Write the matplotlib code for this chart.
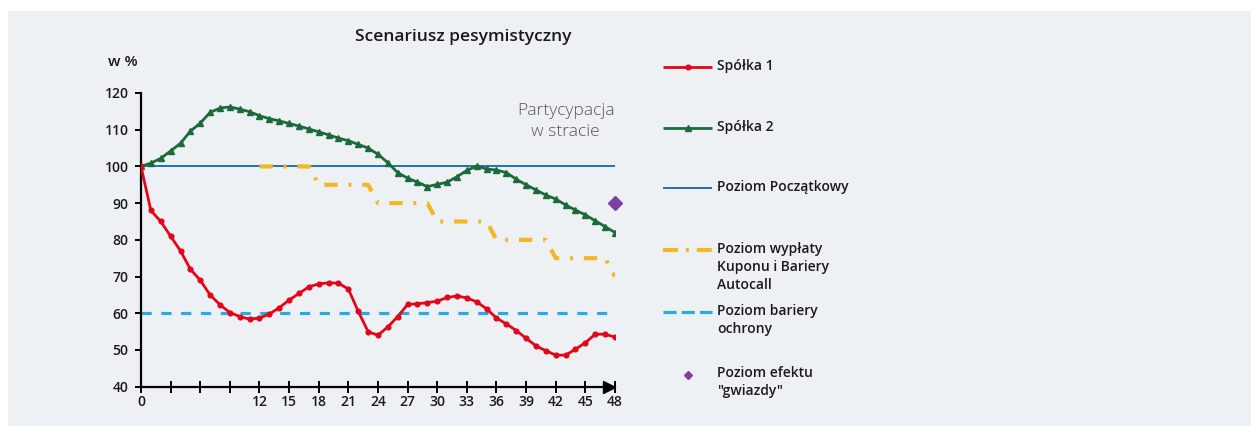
import matplotlib
matplotlib.use("Agg")
import matplotlib.pyplot as plt
from matplotlib.patches import Rectangle

# ---------------- data ----------------
months = list(range(49))
spolka1 = [100, 88, 85, 81, 77, 72, 69, 65, 62.3, 60.2,
           59.1, 58.4, 58.7, 59.8, 61.5, 63.6, 65.4, 67.2, 68, 68.3,
           68.2, 66.6, 60.5, 55, 54, 56.3, 59.1, 62.4, 62.6, 62.9,
           63.3, 64.3, 64.7, 64.2, 63.1, 61.2, 58.7, 57.1, 55.3, 53.2,
           51.1, 49.8, 48.6, 48.6, 50.2, 52.0, 54.3, 54.3, 53.5]
spolka2 = [100, 100.9, 102.2, 104.2, 106.3, 109.6, 111.8, 114.7, 115.9, 116.2,
           115.6, 114.9, 113.8, 113, 112.4, 111.7, 111, 110.2, 109.4, 108.6,
           107.7, 107, 106, 105, 103.3, 101, 98.3, 96.8, 95.7, 94.5,
           95.1, 95.7, 97.2, 98.9, 100.1, 99.3, 99, 98.3, 96.5, 95,
           93.6, 92.2, 91.1, 89.5, 88.1, 86.8, 85.2, 83.6, 82]
autocall_months = list(range(12, 49))
autocall = [100, 100, 100, 100, 100, 100,
            95, 95, 95, 95, 95, 95,
            90, 90, 90, 90, 90, 90,
            85, 85, 85, 85, 85, 85,
            80, 80, 80, 80, 80, 80,
            75, 75, 75, 75, 75, 75,
            70]
poziom_poczatkowy = 100
bariera_ochrony = 60
gwiazda_x = [48]
gwiazda_y = [90]

xticks = list(range(0, 49, 3))
xticklabels = ["0", "", "", "", "12", "15", "18", "21", "24", "27", "30",
               "33", "36", "39", "42", "45", "48"]
yticks = [40, 50, 60, 70, 80, 90, 100, 110, 120]

title = "Scenariusz pesymistyczny"
ylabel = "w %"
note = "Partycypacja\nw stracie"
legend_labels = ["Spółka 1", "Spółka 2", "Poziom Początkowy",
                 "Poziom wypłaty\nKuponu i Bariery\nAutocall",
                 "Poziom bariery\nochrony", "Poziom efektu\n\"gwiazdy\""]

# ---------------- style ----------------
RED = "#E2061B"
GREEN = "#1B6B3A"
BLUE = "#1F74B3"
CYAN = "#2AABE0"
YELLOW = "#F1B726"
PURPLE = "#7A40A3"
BG = "#EEF1F4"
TXT = "#1a1a1a"

plt.rcParams['font.family'] = ['Open Sans', 'DejaVu Sans']

W, H = 1251, 429
fig = plt.figure(figsize=(W / 100, H / 100), dpi=100)
fig.patch.set_facecolor("white")
fig.patches.append(Rectangle((8 / W, 3 / H), (W - 8) / W, (H - 14) / H,
                             transform=fig.transFigure, facecolor=BG,
                             edgecolor="none", zorder=-10))

x0, x1 = 141, 615
y0, y1 = 386.7, 93
ax = fig.add_axes([x0 / W, (H - y0) / H, (x1 - x0) / W, (y0 - y1) / H])
ax.set_facecolor("none")
ax.set_xlim(0, 48)
ax.set_ylim(40, 120)

ax.axhline(poziom_poczatkowy, color=BLUE, lw=1.4, zorder=2)
ax.axhline(bariera_ochrony, color=CYAN, lw=2.3, linestyle=(0, (3.2, 3.0)), zorder=2)
ax.plot(autocall_months, autocall, color=YELLOW, lw=3.0,
        linestyle=(0, (3.2, 2.6, 0.7, 2.6)), zorder=3)
ax.plot(months, spolka2, color=GREEN, lw=2.0, marker="^", markersize=4.0, zorder=4)
ax.plot(months, spolka1, color=RED, lw=2.0, marker="o", markersize=3.4, zorder=5)
ax.plot(gwiazda_x, gwiazda_y, linestyle="none", marker="D", markersize=7.5,
        color=PURPLE, clip_on=False, zorder=6)

for s in ["top", "right"]:
    ax.spines[s].set_visible(False)
for s in ["left", "bottom"]:
    ax.spines[s].set_linewidth(1.6)
    ax.spines[s].set_color("black")

ax.set_xticks(xticks)
ax.set_xticklabels(xticklabels)
ax.set_yticks(yticks)
ax.tick_params(axis="x", direction="inout", length=8, width=1.4, pad=2,
               labelsize=10, labelcolor=TXT)
ax.tick_params(axis="y", direction="out", length=4, width=1.4, pad=5,
               labelsize=10, labelcolor=TXT)
for lab in ax.get_xticklabels() + ax.get_yticklabels():
    lab.set_fontweight("semibold")

# arrow at the end of the x axis
ax.plot([47.35], [40], marker=">", markersize=9, color="black",
        clip_on=False, zorder=7)

ax.text(43.0, 112.2, note, ha="center", va="center", fontsize=12.5,
        color="#555555", fontweight="light", linespacing=1.45)

fig.text(463 / W, 1 - 37 / H, title, ha="center", va="center",
         fontsize=12.5, fontweight="semibold", color=TXT)
fig.text(108 / W, 1 - 62 / H, ylabel, ha="left", va="center",
         fontsize=11, fontweight="semibold", color=TXT)

# ---------------- legend (manual) ----------------
lax = fig.add_axes([0, 0, 1, 1])
lax.set_xlim(0, W)
lax.set_ylim(H, 0)
lax.axis("off")
lx0, lx1, ltx = 663, 712, 717
rows = [67, 128, 188, 250, 312, 374]
handles = [
    dict(color=RED, lw=2.0, ls="-"),
    dict(color=GREEN, lw=2.0, ls="-"),
    dict(color=BLUE, lw=1.4, ls="-"),
    dict(color=YELLOW, lw=3.0, ls=(0, (3.6, 1.9, 0.7, 1.9))),
    dict(color=CYAN, lw=2.3, ls=(0, (4.1, 1.6))),
    None,
]
for i, (yy, lab) in enumerate(zip(rows, legend_labels)):
    h = handles[i]
    if h is not None:
        lax.plot([lx0, lx1], [yy, yy], color=h["color"], lw=h["lw"],
                 linestyle=h["ls"], solid_capstyle="butt")
    if i == 0:
        lax.plot([(lx0 + lx1) / 2], [yy], marker="o", markersize=3.4, color=RED)
    if i == 1:
        lax.plot([(lx0 + lx1) / 2], [yy], marker="^", markersize=4.0, color=GREEN)
    if i == 5:
        lax.plot([(lx0 + lx1) / 2], [yy + 1], marker="D", markersize=4.5, color=PURPLE)
    lax.text(ltx, yy - 8, lab, ha="left", va="top", fontsize=10,
             fontweight="semibold", color=TXT, linespacing=1.35)

fig.savefig("out.png", dpi=100, facecolor=fig.get_facecolor())
